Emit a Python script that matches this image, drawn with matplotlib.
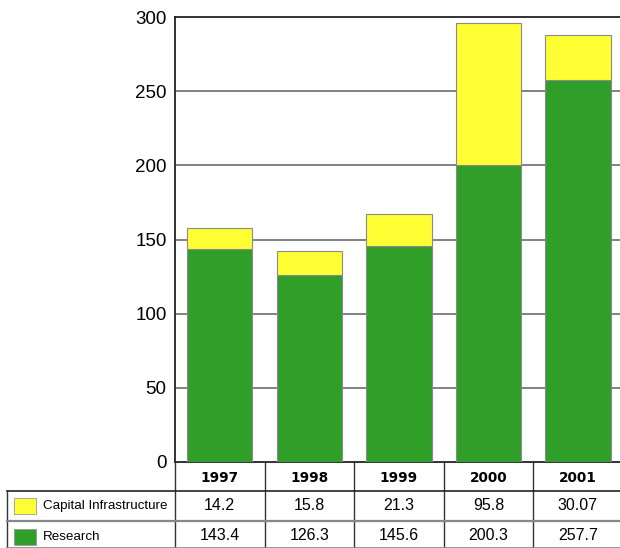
import matplotlib
matplotlib.use("Agg")
import matplotlib.pyplot as plt
from matplotlib.transforms import blended_transform_factory
from matplotlib.patches import Rectangle
from matplotlib.lines import Line2D

years = ["1997", "1998", "1999", "2000", "2001"]
research = [143.4, 126.3, 145.6, 200.3, 257.7]
capital = [14.2, 15.8, 21.3, 95.8, 30.07]
research_labels = ["143.4", "126.3", "145.6", "200.3", "257.7"]
capital_labels = ["14.2", "15.8", "21.3", "95.8", "30.07"]
series_names = ["Capital Infrastructure", "Research"]
yticks = [0, 50, 100, 150, 200, 250, 300]

W, H = 620, 548
fig = plt.figure(figsize=(W / 100, H / 100), dpi=100)
ax = fig.add_axes([175 / W, (H - 462) / H, (W - 175) / W, (462 - 17) / H])

GREEN = "#2f9f2a"
YELLOW = "#ffff33"
x = list(range(len(years)))
bw = 0.73
ax.bar(x, research, width=bw, color=GREEN, edgecolor="#8a8a8a", linewidth=0.8, zorder=3)
ax.bar(x, capital, width=bw, bottom=research, color=YELLOW, edgecolor="#8a8a8a", linewidth=0.8, zorder=3)

ax.set_xlim(-0.5, 4.47)
ax.set_ylim(0, 300)
ax.set_yticks(yticks)
ax.set_yticklabels([str(v) for v in yticks], fontsize=13.5, family=["Liberation Sans", "DejaVu Sans"])
ax.tick_params(axis="y", length=0, pad=6)
ax.set_xticks([])
ax.spines["right"].set_visible(False)
for s in ["top", "left", "bottom"]:
    ax.spines[s].set_color("#222222")
    ax.spines[s].set_linewidth(1.3)
for v in yticks[1:-1]:
    ax.axhline(v, color="#777777", linewidth=1.3, zorder=1)

# table below
tr = blended_transform_factory(ax.transData, fig.transFigure)
figpx = lambda y: (H - y) / H  # pixel-from-top to figure fraction

def hline(x0_fig, y_px, color="#222222", lw=1.2):
    fig.add_artist(Line2D([x0_fig, 1.0], [figpx(y_px), figpx(y_px)], transform=fig.transFigure,
                          color=color, linewidth=lw))

for b in [-0.5, 0.5, 1.5, 2.5, 3.5]:
    fig.add_artist(Line2D([b, b], [figpx(462), figpx(548)], transform=tr, color="#333333", linewidth=1.0))
fig.add_artist(Line2D([6.5 / W, 6.5 / W], [figpx(490.5), figpx(548)], transform=fig.transFigure,
                      color="#333333", linewidth=1.0))
hline(6.5 / W, 490.5, "#222222", 1.2)
hline(6.5 / W, 521, "#888888", 1.6)
hline(6.5 / W, 547.5, "#888888", 1.2)

for i, yr in enumerate(years):
    fig.text(i, figpx(478), yr, transform=tr, ha="center", va="center",
             fontsize=9.8, fontweight="bold", family="DejaVu Sans")
    fig.text(i, figpx(506), capital_labels[i], transform=tr, ha="center", va="center",
             fontsize=11.5, family=["Liberation Sans", "DejaVu Sans"])
    fig.text(i, figpx(535), research_labels[i], transform=tr, ha="center", va="center",
             fontsize=11.5, family=["Liberation Sans", "DejaVu Sans"])

for (name, col, yc) in [(series_names[0], YELLOW, 506), (series_names[1], GREEN, 537)]:
    fig.add_artist(Rectangle((14 / W, figpx(yc + 8)), 22 / W, 16 / H, transform=fig.transFigure,
                             facecolor=col, edgecolor="#999999", linewidth=0.6))
    fig.text(43 / W, figpx(yc), name, ha="left", va="center", fontsize=9.6,
             family=["Liberation Sans", "DejaVu Sans"])

fig.savefig("out.png", dpi=100)
